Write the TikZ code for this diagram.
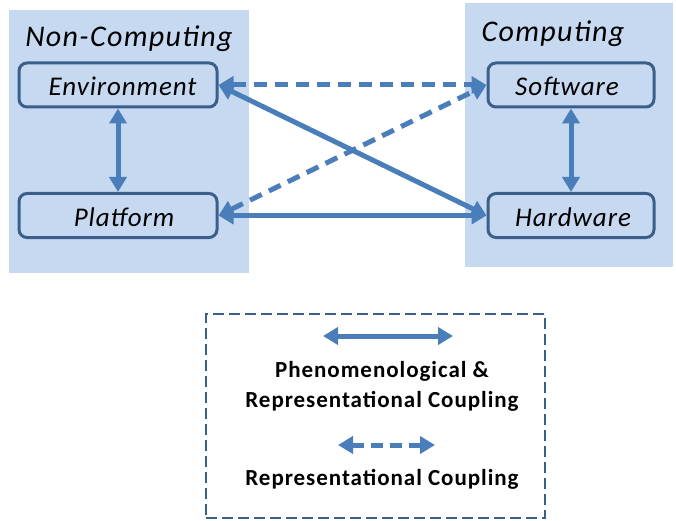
\documentclass[tikz,border=0pt]{standalone}
\usepackage{fontspec}
\setmainfont{Carlito}
\newfontfamily\titlefont[LetterSpace=4.5]{Carlito}
\newfontfamily\boxfont[LetterSpace=3.5]{Carlito}
\newfontfamily\legfont[LetterSpace=4.2]{Carlito}
\usetikzlibrary{arrows.meta}
\definecolor{panelfill}{HTML}{C6D9F1}
\definecolor{boxline}{HTML}{3A5F8B}
\definecolor{arrowblue}{HTML}{4A7EBB}
\tikzset{
  panel/.style={fill=panelfill, draw=none},
  compbox/.style={draw=boxline, line width=3pt, rounded corners=8pt, minimum height=44pt,
    inner sep=0pt, font=\boxfont\fontsize{27}{29}\selectfont\itshape, text height=24pt, text depth=2pt},
  title/.style={font=\titlefont\fontsize{30}{32}\selectfont\itshape, anchor=base, inner sep=0pt},
  legtext/.style={font=\legfont\fontsize{23}{25}\selectfont\bfseries, anchor=base, inner sep=0pt},
  link/.style={draw=arrowblue, line width=5pt, {Triangle[length=15pt,width=17pt]}-{Triangle[length=15pt,width=17pt]}},
  dlink/.style={link, dash pattern=on 13pt off 8pt},
  legframe/.style={draw=boxline, line width=2.5pt, dash pattern=on 11pt off 5pt}
}
\begin{document}
\begin{tikzpicture}[x=1pt,y=-1pt]
\useasboundingbox (0,0) rectangle (676,521);
% panels
\fill[panel] (9,10) rectangle (249,273);
\fill[panel] (465,3) rectangle (673,267);
\node[title] (tnc) at (129,47) {Non-Computing};
\node[title] (tc) at (553,42) {Computing};
% boxes
\node[compbox, minimum width=198pt] (env) at (118,85) {\hspace{9pt}Environment};
\node[compbox, minimum width=198pt] (plat) at (118,215.5) {\hspace{12pt}Platform};
\node[compbox, minimum width=166pt] (soft) at (571,85) {\hspace{-8pt}Software};
\node[compbox, minimum width=166pt] (hard) at (571,215.5) {\hspace{4pt}Hardware};
% links
\draw[link] (env.south) -- (plat.north);
\draw[link] (soft.south) -- (hard.north);
\draw[dlink] (env.east) -- (soft.west);
\draw[link] (env.east) -- (hard.west);
\draw[dlink] (plat.east) -- (soft.west);
\draw[link] (plat.east) -- (hard.west);
% legend
\node[legframe, minimum width=339pt, minimum height=204pt, inner sep=0pt] (leg) at (375.5,416) {};
\coordinate (la1) at (323,336);
\coordinate (la2) at (453,336);
\coordinate (lb1) at (338,445);
\coordinate (lb2) at (435,445);
\draw[link] (la1) -- (la2);
\draw[dlink, dash pattern=on 12pt off 7pt] (lb1) -- (lb2);
\node[legtext] (l1) at (382,377) {Phenomenological \&};
\node[legtext] (l2) at (382,407) {Representational Coupling};
\node[legtext] (l3) at (382,485) {Representational Coupling};
\end{tikzpicture}
\end{document}
